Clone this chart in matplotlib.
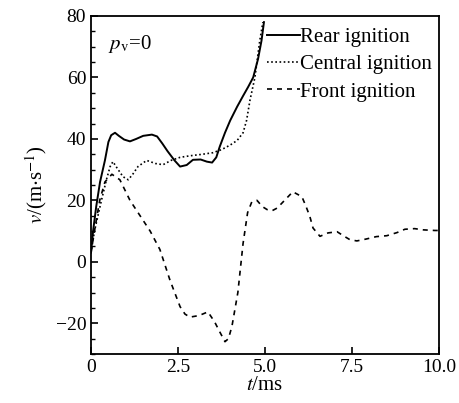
import numpy as np
import matplotlib
matplotlib.use('Agg')
import matplotlib.pyplot as plt
from matplotlib.ticker import MultipleLocator

plt.rcParams['font.family'] = 'Liberation Serif'
plt.rcParams['mathtext.fontset'] = 'stix'

# rear ignition (solid)
t_rear = [0.0, 0.06, 0.15, 0.26, 0.4, 0.5, 0.58, 0.69, 0.8, 0.95, 1.12, 1.3, 1.5, 1.75, 1.9, 2.05, 2.2, 2.4, 2.56, 2.75, 2.93, 3.15, 3.33, 3.48, 3.6, 3.7, 3.85, 4.0, 4.2, 4.37, 4.52, 4.66, 4.8, 4.9, 4.97]
v_rear = [3, 10, 18, 26, 33, 39, 41.2, 42, 41, 39.8, 39.2, 40, 41, 41.4, 40.8, 38.5, 36, 33, 31, 31.5, 33.2, 33.3, 32.6, 32.3, 34, 37.5, 42, 46, 50.5, 54, 57, 60, 66, 72, 78]

# central ignition (dotted)
t_cen = [0.0, 0.1, 0.3, 0.45, 0.55, 0.63, 0.75, 0.92, 1.07, 1.2, 1.35, 1.6, 1.85, 2.07, 2.3, 2.56, 2.84, 3.2, 3.5, 3.75, 4.0, 4.2, 4.37, 4.47, 4.57, 4.71, 4.85, 4.94]
v_cen = [3, 10, 20, 27, 31, 32.6, 30.5, 27.7, 26.7, 28.5, 31, 33, 32, 31.6, 33, 34, 34.5, 35, 35.5, 36.5, 38, 39.5, 42, 46, 52.7, 60, 72, 78]

# front ignition (dashed)
t_front = [0.0, 0.1, 0.25, 0.4, 0.6, 0.83, 1.12, 1.41, 1.7, 1.98, 2.27, 2.56, 2.7, 2.84, 3.1, 3.36, 3.55, 3.7, 3.85, 3.95, 4.05, 4.22, 4.37, 4.5, 4.62, 4.77, 4.92, 5.06, 5.2, 5.35, 5.52, 5.8, 6.06, 6.18, 6.29, 6.38, 6.58, 6.81, 7.07, 7.25, 7.44, 7.64, 7.9, 8.2, 8.5, 8.79, 9.02, 9.3, 9.55, 9.88, 10.0]
v_front = [3, 10, 20, 26, 28.5, 26.7, 20, 15, 10, 4, -6, -14.6, -17, -18, -17.5, -16.3, -19.5, -22.8, -26, -25, -21, -10, 6, 16, 19.5, 20, 18, 17, 16.6, 17.5, 19.5, 22.8, 21.2, 18, 14.7, 11, 8.3, 9.4, 9.8, 8.5, 7.2, 6.8, 7.4, 8.2, 8.5, 9.5, 10.6, 10.8, 10.4, 10.2, 10.2]

fig = plt.figure(figsize=(4.59, 4.03), dpi=100)
ax = fig.add_axes([91/459, 1-354/403, 348/459, 338/403])

ax.plot(t_rear, v_rear, 'k-', lw=1.4, label='Rear ignition')
ax.plot(t_cen, v_cen, 'k', ls=(0, (1, 1.5)), lw=1.2, label='Central ignition')
ax.plot(t_front, v_front, 'k', ls=(0, (3, 3)), lw=1.2, label='Front ignition')

ax.set_xlim(0, 10)
ax.set_ylim(-30, 80)
ax.yaxis.set_major_locator(MultipleLocator(20))
ax.yaxis.set_minor_locator(MultipleLocator(5))
ax.set_xticks([0, 2.5, 5, 7.5, 10])
ax.set_xticklabels(['0', '2.5', '5.0', '7.5', '10.0'])
ax.tick_params(direction='in', labelsize=14, length=5, width=1.2, top=False, right=False)
ax.tick_params(which='minor', direction='in', length=3, width=1)
for s in ax.spines.values():
    s.set_linewidth(1.3)

ax.set_xlabel('$\\mathit{t}$/ms', fontsize=15, labelpad=0)
ax.set_ylabel('$\\mathit{v}$/(m$\\cdot$s$^{-1}$)', fontsize=15, labelpad=5)
ax.text(0.05, 0.95, '$\\mathit{p}_{\\mathrm{v}}$=0', transform=ax.transAxes, fontsize=15, va='top')

ax.legend(loc='upper left', bbox_to_anchor=(0.506, 0.965), frameon=False, fontsize=15,
          handlelength=1.6, handletextpad=0.0, labelspacing=0.36, borderaxespad=0, borderpad=0)

fig.savefig('out.png', dpi=100)
